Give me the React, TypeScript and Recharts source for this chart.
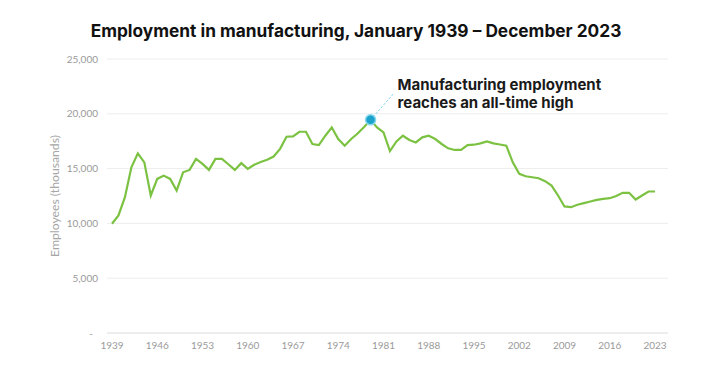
import React from 'react';
import { LineChart, Line, XAxis, YAxis, CartesianGrid, ReferenceDot, ReferenceLine } from 'recharts';

const titleText = 'Employment in manufacturing, January 1939 – December 2023';
const yAxisTitle = 'Employees (thousands)';
const annotationLines = ['Manufacturing employment', 'reaches an all-time high'];

const years = [
  1939, 1940, 1941, 1942, 1943, 1944, 1945, 1946, 1947, 1948, 1949,
  1950, 1951, 1952, 1953, 1954, 1955, 1956, 1957, 1958, 1959,
  1960, 1961, 1962, 1963, 1964, 1965, 1966, 1967, 1968, 1969,
  1970, 1971, 1972, 1973, 1974, 1975, 1976, 1977, 1978, 1979,
  1980, 1981, 1982, 1983, 1984, 1985, 1986, 1987, 1988, 1989,
  1990, 1991, 1992, 1993, 1994, 1995, 1996, 1997, 1998, 1999,
  2000, 2001, 2002, 2003, 2004, 2005, 2006, 2007, 2008, 2009,
  2010, 2011, 2012, 2013, 2014, 2015, 2016, 2017, 2018, 2019,
  2020, 2021, 2022, 2023,
];

const employees = [
  9970, 10730, 12390, 15120, 16390, 15570, 12545, 14060, 14360, 14060, 13000,
  14660, 14880, 15880, 15430, 14880, 15880, 15880, 15400, 14880, 15500,
  14970, 15350, 15600, 15800, 16100, 16800, 17910, 17940, 18360, 18360,
  17245, 17150, 18000, 18760, 17700, 17090, 17700, 18200, 18800, 19450,
  18760, 18300, 16600, 17480, 18000, 17610, 17390, 17850, 18000, 17700,
  17245, 16850, 16700, 16700, 17150, 17180, 17300, 17480, 17300, 17200,
  17090, 15570, 14520, 14300, 14210, 14120, 13850, 13450, 12545, 11545,
  11480, 11700, 11850, 12000, 12150, 12245, 12300, 12500, 12790, 12790,
  12180, 12545, 12910, 12910,
];

const xTicks = [1939, 1946, 1953, 1960, 1967, 1974, 1981, 1988, 1995, 2002, 2009, 2016, 2023];
const yTicks = [0, 5000, 10000, 15000, 20000, 25000];

const peakYear = 1979;
const peakValue = 19450;
const calloutEndYear = 1982.5;
const calloutEndValue = 21800;

const data = years.map((year, i) => ({ year, value: employees[i] }));

const tickStyle = { fill: '#9a9a9a', fontSize: 10, fontFamily: 'Lato, sans-serif' };

const AnnotationLabel = (props: any) => {
  const vb = props.viewBox || {};
  const cx = vb.x + vb.width / 2;
  const cy = vb.y + vb.height / 2;
  return (
    <text
      x={cx + 27}
      y={cy - 30}
      fill="#1a1a1a"
      style={{ fontFamily: 'Inter, sans-serif', fontWeight: 700, fontSize: 15 }}
    >
      <tspan x={cx + 27} y={cy - 30}>{annotationLines[0]}</tspan>
      <tspan x={cx + 27} y={cy - 12}>{annotationLines[1]}</tspan>
    </text>
  );
};

const YTitle = (props: any) => {
  const vb = props.viewBox || {};
  const x = vb.x + 54;
  const y = vb.y + vb.height / 2;
  return (
    <text
      x={x}
      y={y}
      transform={`rotate(-90, ${x}, ${y})`}
      textAnchor="middle"
      dominantBaseline="central"
      style={{ fill: '#a6a6a6', fontSize: 12.2, fontFamily: 'Lato, sans-serif' }}
    >
      {yAxisTitle}
    </text>
  );
};

export default function App() {
  return (
    <div style={{ position: 'absolute', left: 0, top: 0, width: 720, height: 377, background: '#fff' }}>
      <div
        style={{
          position: 'absolute',
          left: 0,
          top: 20,
          width: 712,
          textAlign: 'center',
          fontFamily: 'Inter, sans-serif',
          fontWeight: 700,
          fontSize: 17.3,
          lineHeight: '22px',
          color: '#111',
        }}
      >
        {titleText}
      </div>
      <LineChart width={720} height={377} data={data} margin={{ top: 59, right: 52, bottom: 14, left: 0 }}>
        <CartesianGrid horizontal vertical={false} stroke="#ededed" />
        <XAxis
          dataKey="year"
          type="number"
          domain={[1939, 2023]}
          ticks={xTicks}
          padding={{ left: 5, right: 13 }}
          axisLine={{ stroke: '#e4e4e4' }}
          tickLine={false}
          tickSize={0}
          tickMargin={9}
          height={30}
          tick={tickStyle}
          interval={0}
        />
        <YAxis
          type="number"
          domain={[0, 25000]}
          ticks={yTicks}
          width={107}
          axisLine={false}
          tickLine={false}
          tickSize={0}
          tickMargin={9}
          tick={tickStyle}
          interval={0}
          tickFormatter={(v: number) => (v === 0 ? '-\u00a0\u00a0' : v.toLocaleString('en-US'))}
          label={<YTitle />}
        />
        <Line
          type="linear"
          dataKey="value"
          stroke="#7cc242"
          strokeWidth={2.2}
          dot={false}
          isAnimationActive={false}
        />
        <ReferenceLine
          segment={[
            { x: peakYear, y: peakValue },
            { x: calloutEndYear, y: calloutEndValue },
          ]}
          stroke="#6ccbe8"
          strokeWidth={1}
          strokeDasharray="2 2"
        />
        <ReferenceDot
          x={peakYear}
          y={peakValue}
          r={5}
          fill="#1ba3cc"
          stroke="#86d8ef"
          strokeWidth={1.5}
          label={<AnnotationLabel />}
        />
      </LineChart>
    </div>
  );
}
